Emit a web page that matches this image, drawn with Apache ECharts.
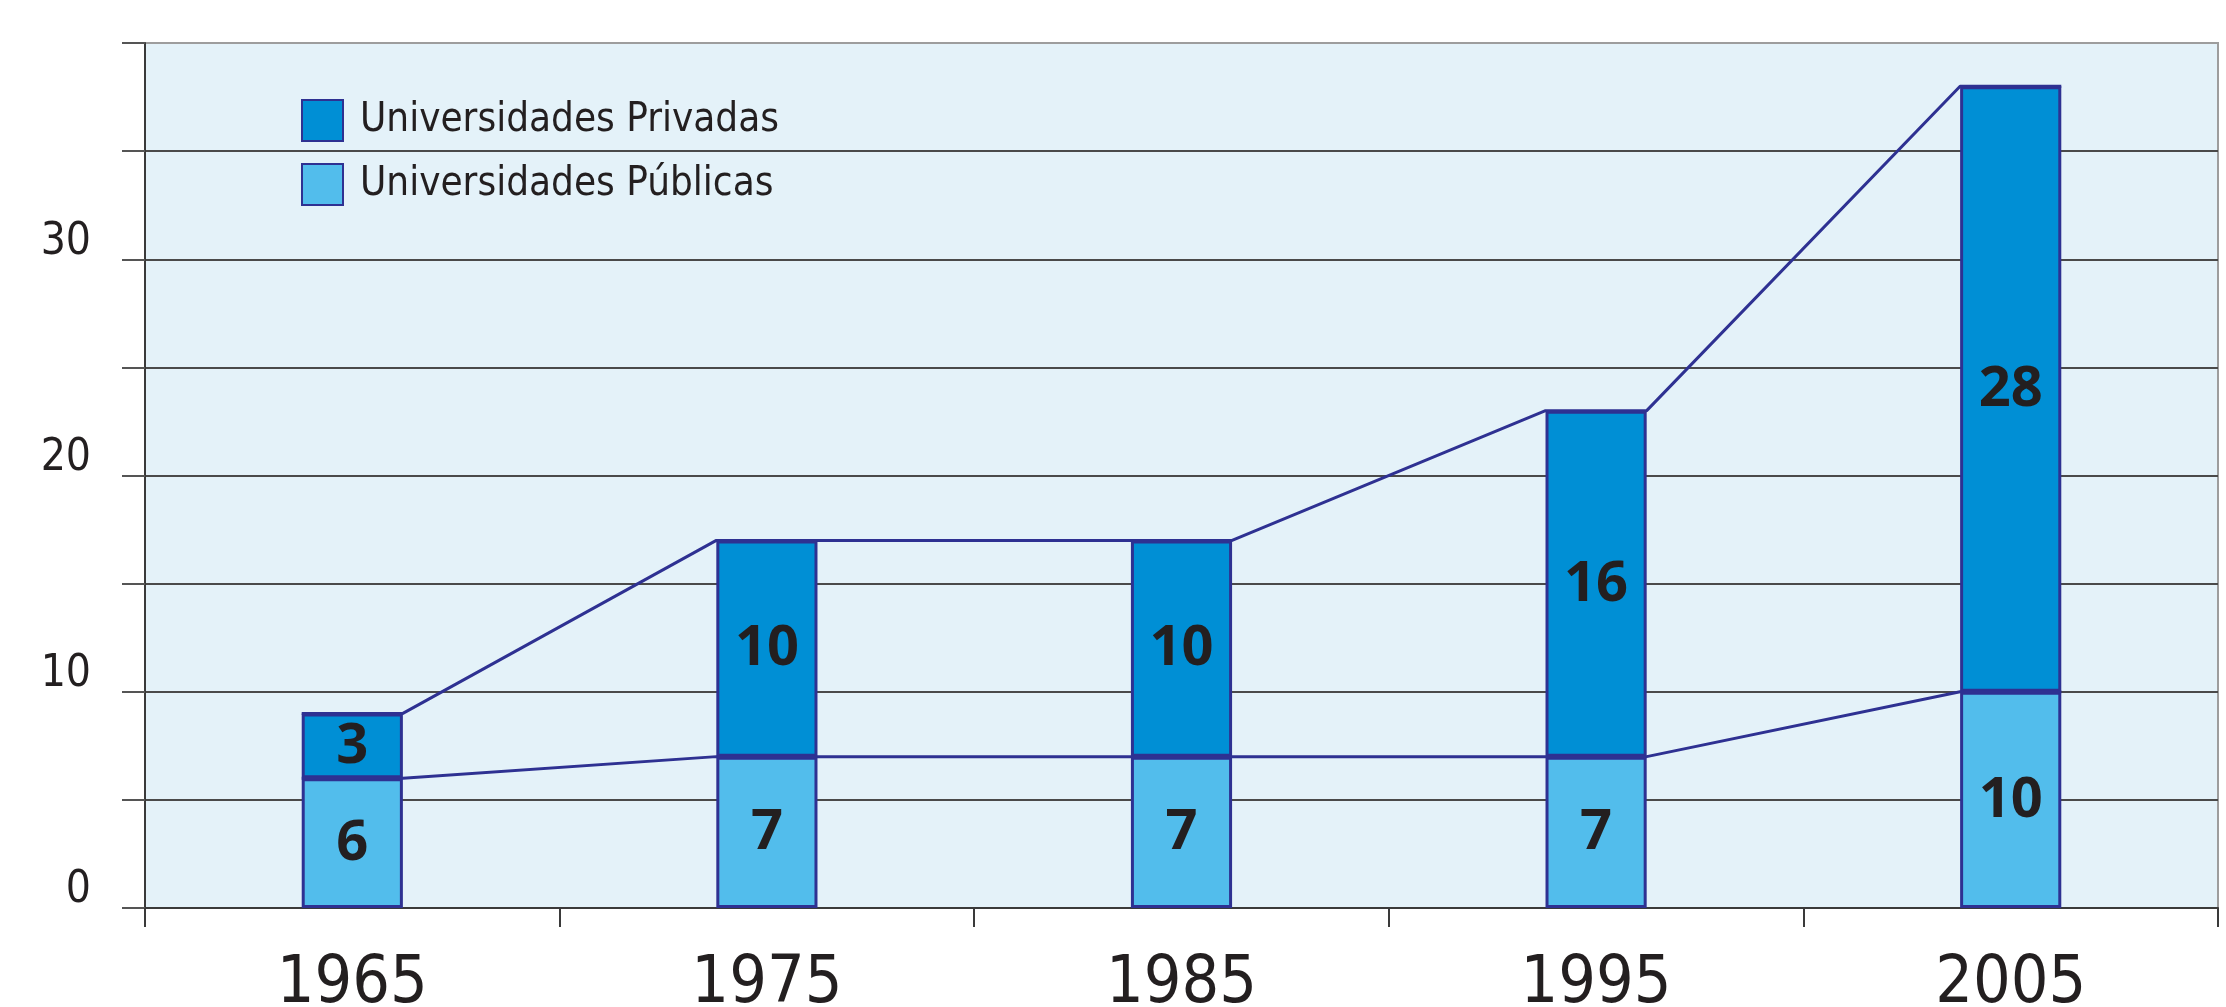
<!DOCTYPE html>
<html>
<head>
<meta charset="utf-8">
<title>Universidades</title>
<script src="https://cdn.jsdelivr.net/npm/echarts@6/dist/echarts.min.js"></script>
<style>
  html, body { margin: 0; padding: 0; background: #ffffff; }
  #chart { width: 2226px; height: 1007px; }
</style>
</head>
<body>
<div id="chart"></div>
<script>
// datos
const years = ['1965', '1975', '1985', '1995', '2005']
const publicas = [6, 7, 7, 7, 10]
const privadas = [3, 10, 10, 16, 28]
const yLabels = [0, 10, 20, 30]

const ink = '#231f20'
const edge = '#2e3192'
const narrow = "'DejaVu Sans Condensed', 'Liberation Sans Narrow', sans-serif"
const BAR = 0.244 // ancho de barra respecto a la banda
const HALF = BAR / 2

const totals = publicas.map((v, i) => v + privadas[i])

// puntos en los bordes superiores de cada barra (eje x de valor 0..5)
function edgePoints(tops) {
  const pts = []
  tops.forEach((v, i) => {
    pts.push([i + 0.5 - HALF, v])
    pts.push([i + 0.5 + HALF, v])
  })
  return pts
}

function barSeries(name, data, color) {
  return {
    name: name,
    type: 'bar',
    stack: 'u',
    barWidth: (BAR * 100) + '%',
    data: data,
    itemStyle: { color: color, borderColor: edge, borderWidth: 3 },
    label: {
      show: true,
      position: 'inside',
      color: ink,
      fontFamily: "'Open Sans', sans-serif",
      fontWeight: 'bold',
      fontSize: 56,
      offset: [0, 1]
    },
    z: 2
  }
}

function lineSeries(tops) {
  return {
    type: 'line',
    xAxisIndex: 1,
    data: edgePoints(tops),
    symbol: 'none',
    lineStyle: { color: edge, width: 3 },
    silent: true,
    z: 3
  }
}

const option = {
  animation: false,
  backgroundColor: '#ffffff',
  legend: {
    orient: 'vertical',
    left: 301,
    top: 99,
    padding: 0,
    itemWidth: 41,
    itemHeight: 41,
    itemGap: 21,
    icon: 'rect',
    data: ['Universidades Privadas', 'Universidades Públicas'],
    textStyle: { color: ink, fontFamily: narrow, fontSize: 40, lineHeight: 41, padding: [0, 0, 0, 12] }
  },
  grid: {
    left: 145,
    right: 8,
    top: 43,
    bottom: 99,
    outerBoundsMode: 'none',
    show: true,
    backgroundColor: '#e4f2f9',
    borderColor: '#9d9d9d',
    borderWidth: 2
  },
  xAxis: [
    {
      type: 'category',
      data: years,
      boundaryGap: true,
      axisLine: { lineStyle: { color: '#3a3a3a', width: 2 } },
      axisTick: { show: true, length: 19, lineStyle: { color: '#3a3a3a', width: 2 } },
      axisLabel: { color: ink, fontFamily: narrow, fontSize: 66, margin: 44 }
    },
    {
      type: 'value',
      min: 0,
      max: years.length,
      show: false
    }
  ],
  yAxis: {
    type: 'value',
    min: 0,
    max: 40,
    interval: 5,
    axisLine: { show: true, lineStyle: { color: '#3a3a3a', width: 2 } },
    axisTick: { show: true, length: 23, lineStyle: { color: '#555555', width: 2 } },
    axisLabel: {
      color: ink,
      fontFamily: narrow,
      fontSize: 44,
      lineHeight: 34,
      margin: 54,
      verticalAlign: 'bottom',
      formatter: v => (yLabels.indexOf(v) >= 0 ? String(v) : '')
    },
    splitLine: {
      show: true,
      lineStyle: {
        color: ['#4a4a4a', '#4a4a4a', '#4a4a4a', '#4a4a4a', '#4a4a4a', '#4a4a4a', '#4a4a4a', '#4a4a4a', '#9d9d9d'],
        width: 2
      }
    }
  },
  series: [
    barSeries('Universidades Públicas', publicas, '#52bdec'),
    barSeries('Universidades Privadas', privadas, '#008fd5'),
    lineSeries(publicas),
    lineSeries(totals)
  ]
}

echarts.init(document.getElementById('chart')).setOption(option)
</script>
</body>
</html>
